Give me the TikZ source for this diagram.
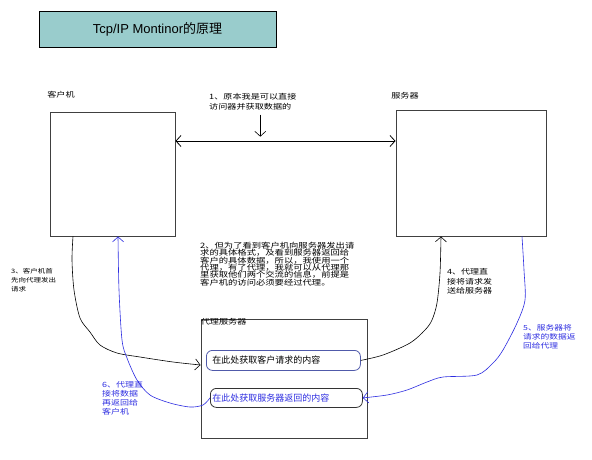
\documentclass[tikz,border=0pt]{standalone}
\usepackage{fontspec}
\setmainfont{Noto Sans CJK SC}
\newfontfamily\cjkwide[FakeStretch=1.25]{Noto Sans CJK SC}
\newfontfamily\arialfont{Liberation Sans}
\usetikzlibrary{arrows.meta}
\definecolor{titlefill}{RGB}{153,204,204}
\definecolor{penblue}{RGB}{45,45,225}
\definecolor{boxblue}{RGB}{80,90,170}

\begin{document}
\begin{tikzpicture}[x=1pt,y=-1pt,
	frame/.style={draw=black!75,line width=0.9pt,inner sep=0},
	note/.style={inner sep=0,align=left,anchor=north west,font=\cjkwide\fontsize{7.3}{9}\selectfont},
	pen/.style={line width=0.6pt,-{Straight Barb[length=5pt,width=11pt]}},
	inbox/.style={line width=0.8pt,rounded corners=6pt,align=left,inner ysep=0,font=\fontsize{9}{10}\selectfont}]
	\useasboundingbox[fill=white] (0,0) rectangle (592,459);
	\node[draw=black,fill=titlefill,line width=1pt,minimum width=237,minimum height=36,font=\fontsize{13}{14}\selectfont] (title) at (157.5,29) {{\arialfont Tcp/IP Montinor}的原理};
	\node[frame,minimum width=125,minimum height=124] (client) at (112.5,174) {};
	\node[frame,minimum width=150,minimum height=126] (server) at (471,173) {};
	\node[frame,minimum width=166,minimum height=119] (proxy) at (284,378.5) {};
	\node[note,anchor=center] (clientlbl) at (61,95) {客户机};
	\node[note,anchor=center] (serverlbl) at (405,96) {服务器};
	\node[note,anchor=north west] (proxylbl) at (proxy.north west) {代理服务器};
	\node[inbox,draw=boxblue,minimum height=20,inner xsep=6,text width=142,anchor=north west] (box1) at (206,350) {在此处获取客户请求的内容};
	\node[inbox,draw=black!80,text=penblue,minimum height=19,inner xsep=2,text width=148,anchor=north west] (box2) at (210,388) {在此处获取服务器返回的内容};
	\node[note,font=\cjkwide\fontsize{7.3}{10}\selectfont] (note1) at (209,93.5) {1、原本我是可以直接\\访问器并获取数据的};
	\node[note,font=\cjkwide\fontsize{7.45}{7.3}\selectfont] (note2) at (200,242) {2、但为了看到客户机向服务器发出请\\求的具体格式，及看到服务器返回给\\客户的具体数据，所以，我使用一个\\代理，有了代理，我就可以从代理那\\里获取他们两个交流的信息，前提是\\客户机的访问必须要经过代理。};
	\node[note,font=\cjkwide\fontsize{6}{9}\selectfont] (note3) at (11,268.5) {3、客户机首\\先向代理发出\\请求};
	\node[note,font=\cjkwide\fontsize{7.2}{9.5}\selectfont] (note4) at (447,268.5) {4、代理直\\接将请求发\\送给服务器};
	\node[note,text=penblue,font=\cjkwide\fontsize{7}{9}\selectfont] (note5) at (523,324.5) {5、服务器将\\请求的数据返\\回给代理};
	\node[note,text=penblue,font=\cjkwide\fontsize{7.2}{9}\selectfont] (note6) at (102,381.5) {6、代理直\\接将数据\\再返回给\\客户机};

	\draw[line width=0.8pt,{Straight Barb[length=5pt,width=11pt]}-{Straight Barb[length=5pt,width=11pt]}] (client.east |- 0,141) -- (server.west |- 0,141);
	\draw[pen] ([xshift=7.5,yshift=-4]note1.south) -- ++(0,22);
	\draw[pen] plot[smooth] coordinates {([xshift=-39.5]client.south) (72,260) (74,290) (80,318) (90,332) (100,345) (117,353) (140,357) (173,362) (proxy.west |- 0,365)};
	\draw[pen] plot[smooth] coordinates {(box1.east) (383,355) (410,343) (425,330) (432,320) (437,303) (440,273) ([xshift=-30]server.south)};
	\draw[pen,draw=penblue] plot[smooth] coordinates {([xshift=51]server.south) (524,270) (525,300) (517,323) (503,350) (493,363) (477,375) (443,377) (427,382) (407,390) (387,395) (box2.east)};
	\draw[pen,draw=penblue] plot[smooth] coordinates {(box2.west) (203,405) (190,407) (170,403) (150,395) (137,380) (127,358) (122,340) (119,290) ([xshift=5.5]client.south)};
\end{tikzpicture}
\end{document}
